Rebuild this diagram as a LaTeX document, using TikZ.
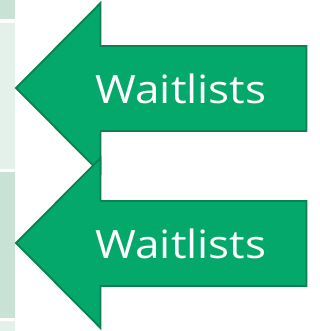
\documentclass[tikz,border=0pt]{standalone}
\usepackage{fontspec}
\setmainfont{Open Sans}
\definecolor{arrowfill}{HTML}{04A86B}
\definecolor{arrowline}{HTML}{0B8050}
\definecolor{paneldark}{HTML}{C8E2D5}
\definecolor{panellight}{HTML}{E4F0EA}
\tikzset{
  bigarrow/.style={fill=arrowfill, draw=arrowline, line width=1.8pt, line join=miter},
  arrowlabel/.style={text=white, font=\fontsize{39}{41}\selectfont, inner sep=0pt, anchor=base, xscale=1.13},
}
\begin{document}
\begin{tikzpicture}[x=1pt,y=-1pt]
\useasboundingbox (0,0) rectangle (320,331);
% left panels
\fill[paneldark] (0,0) rectangle (15,19.5);
\fill[panellight] (0,23) rectangle (15,168.5);
\fill[paneldark] (0,171.5) rectangle (15,317.5);
\fill[panellight] (0,320.5) rectangle (15,331);
% arrow 1
\draw[bigarrow] (16,88) -- (100.5,3) -- (100.5,46) -- (306.5,46) -- (306.5,131) -- (100.5,131) -- (100.5,173) -- cycle;
\node[arrowlabel] (w1) at (181,103.3) {Waitlists};
% arrow 2
\draw[bigarrow] (16,243) -- (100.5,158) -- (100.5,201) -- (306.5,201) -- (306.5,286) -- (100.5,286) -- (100.5,328) -- cycle;
\node[arrowlabel] (w2) at (181,258.3) {Waitlists};
\end{tikzpicture}
\end{document}
